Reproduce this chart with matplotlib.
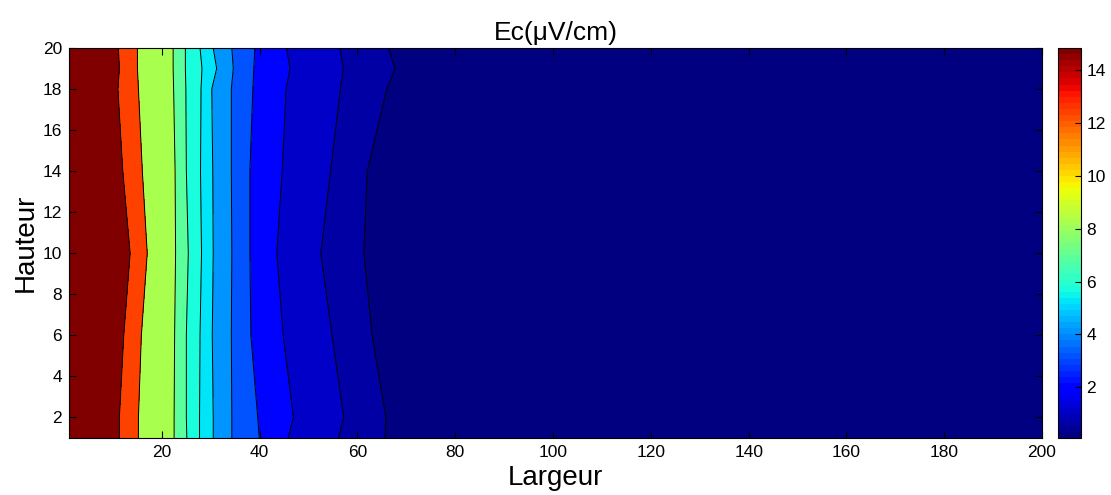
import matplotlib

matplotlib.use("Agg")
import matplotlib.pyplot as plt
import numpy as np
from matplotlib.cm import ScalarMappable
from matplotlib.colors import Normalize

plt.rcParams["font.family"] = ["Liberation Sans", "DejaVu Sans"]

# Ec (uV/cm) on the 200 x 20 section, given as the x position where each
# iso-level is crossed, for a set of heights.
heights = [1, 2, 6, 10, 14, 18, 19, 20]
ec_levels = [14.85, 12.4, 8.35, 6.97, 5.83, 5.16, 4.23, 3.22, 2.15, 1.16, 0.73]
x_iso = [
    [11.3, 15.2, 22.5, 25.1, 27.7, 30.5, 34.3, 39.9, 45.8, 56.1, 65.6],
    [11.3, 15.2, 22.5, 25.0, 27.7, 30.5, 34.3, 39.6, 46.9, 57.2, 65.8],
    [12.2, 15.8, 22.6, 25.0, 27.8, 30.3, 34.2, 38.2, 44.8, 54.8, 63.0],
    [13.5, 17.0, 22.8, 25.4, 28.1, 30.5, 34.3, 38.0, 43.5, 52.5, 61.3],
    [12.0, 16.0, 22.7, 25.0, 27.9, 30.4, 34.2, 38.0, 44.6, 54.5, 62.0],
    [11.0, 15.2, 22.4, 24.9, 28.0, 30.2, 34.2, 38.6, 45.4, 56.5, 66.0],
    [11.3, 15.0, 22.3, 24.8, 28.2, 31.2, 34.6, 38.8, 46.2, 57.1, 67.7],
    [11.1, 15.0, 22.3, 24.8, 27.8, 30.5, 34.3, 39.0, 45.5, 56.4, 66.3],
]
x_start, x_end = 1, 200
ec_max, ec_min = 15.5, 0.08
clim = (0.08, 14.85)

X = np.array([[x_start] + row + [x_end] for row in x_iso], dtype=float)
Y = np.repeat(np.array(heights, dtype=float)[:, None], X.shape[1], axis=1)
Z = np.tile([ec_max] + ec_levels + [ec_min], (len(heights), 1))

bounds = sorted([ec_min] + ec_levels + [ec_max])
cmap = plt.get_cmap("jet", 64)
norm = Normalize(*clim)
# matlab style: each band takes the colour of its lower level
band_colors = [cmap(norm(v)) for v in bounds[:-1]]

fig = plt.figure(figsize=(11.11, 4.95), dpi=100)
ax = fig.add_axes([0.0621, 0.1152, 0.8758, 0.7878])
ax.contourf(X, Y, Z, levels=bounds, colors=band_colors)
ax.contour(X, Y, Z, levels=sorted(ec_levels), colors="k", linewidths=0.7)

ax.set_xlim(1, 200)
ax.set_ylim(1, 20)
ax.set_xticks(range(20, 201, 20))
ax.set_yticks(range(2, 21, 2))
ax.tick_params(direction="in", top=True, right=True, length=5, width=0.8,
               labelsize=12.5, pad=5)
ax.set_title("Ec(μV/cm)", fontsize=19, pad=6)
ax.set_xlabel("Largeur", fontsize=20, labelpad=4)
ax.set_ylabel("Hauteur", fontsize=20, labelpad=3)

cax = fig.add_axes([0.9523, 0.1152, 0.0207, 0.7878])
cb = fig.colorbar(ScalarMappable(norm=norm, cmap=cmap), cax=cax)
cb.set_ticks(range(2, 15, 2))
cax.tick_params(direction="in", length=4, width=0.8, labelsize=12.5, pad=4)
cb.outline.set_linewidth(0.8)

fig.savefig("out.png", dpi=100)
plt.close(fig)
